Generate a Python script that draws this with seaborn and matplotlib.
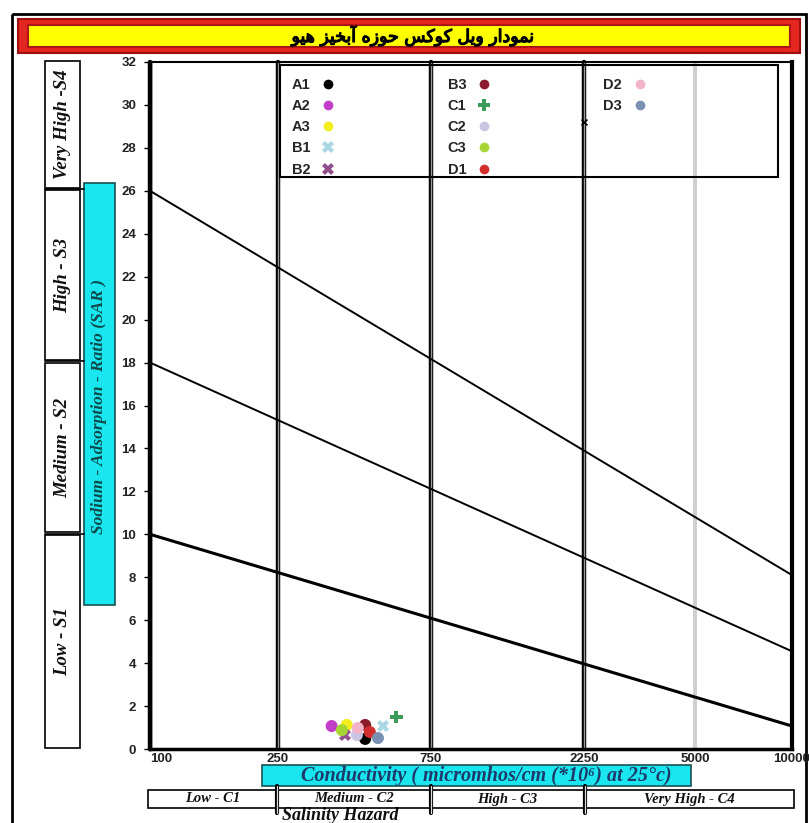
import numpy as np
import pandas as pd
import matplotlib
matplotlib.use('Agg')
import matplotlib.pyplot as plt
import matplotlib.patheffects as pe
import seaborn as sns
from matplotlib.patches import Rectangle
from matplotlib.lines import Line2D
from matplotlib.ticker import NullLocator

W, H = 809, 823

# ---- data -------------------------------------------------------------
samples = ['A1', 'A2', 'A3', 'B1', 'B2', 'B3', 'C1', 'C2', 'C3', 'D1', 'D2', 'D3']
ec_values = [468, 368, 410, 532, 405, 468, 586, 441, 396, 484, 444, 513]
sar_values = [0.47, 1.07, 1.12, 1.07, 0.65, 1.12, 1.50, 0.65, 0.88, 0.79, 0.98, 0.51]
sample_colors = ['#000000', '#c23ec9', '#f2ee1e', '#a9d7e6', '#93508f', '#8c1c2c',
                 '#3c9b58', '#c9c6e4', '#a6d634', '#d42f2f', '#f3b4c9', '#7a91b3']
sample_markers = ['o', 'o', 'o', 'X', 'X', 'o', 'P', 'o', 'o', 'o', 'o', 'o']

# stray marker sitting on the 2250 line
stray_ec = [2250]
stray_sar = [29.2]

# class boundary lines (SAR at EC=100 and EC=10000)
line_ec = [100, 10000]
line_s1_sar = [10, 1.07]
line_s2_sar = [18, 4.55]
line_s3_sar = [26, 8.1]

sar_bounds = [0, 10, 18, 26, 32]
sar_classes = ['Low - S1', 'Medium - S2', 'High - S3', 'Very High -S4']
ec_bounds = [100, 250, 750, 2250, 10000]
ec_classes = ['Low - C1', 'Medium - C2', 'High - C3', 'Very High - C4']
x_ticks = [100, 250, 750, 2250, 5000, 10000]
y_ticks = list(range(0, 33, 2))

title_fa = 'نمودار ویل کوکس حوزه آبخیز هیو'
sar_label = 'Sodium - Adsorption - Ratio (SAR )'
ec_label = 'Conductivity ( micromhos/cm (*10\u2076) at 25\u00b0c)'
salinity_label = 'Salinity Hazard'

# ---- minimal arabic shaping (matplotlib has no text shaping) -----------
forms = {
    'ا': (0xFE8D, 0xFE8E, None, None), 'آ': (0xFE81, 0xFE82, None, None),
    'ب': (0xFE8F, 0xFE90, 0xFE91, 0xFE92), 'خ': (0xFEA5, 0xFEA6, 0xFEA7, 0xFEA8),
    'ح': (0xFEA1, 0xFEA2, 0xFEA3, 0xFEA4), 'د': (0xFEA9, 0xFEAA, None, None),
    'ر': (0xFEAD, 0xFEAE, None, None), 'ز': (0xFEAF, 0xFEB0, None, None),
    'س': (0xFEB1, 0xFEB2, 0xFEB3, 0xFEB4), 'ک': (0xFB8E, 0xFB8F, 0xFB90, 0xFB91),
    'ل': (0xFEDD, 0xFEDE, 0xFEDF, 0xFEE0), 'م': (0xFEE1, 0xFEE2, 0xFEE3, 0xFEE4),
    'ن': (0xFEE5, 0xFEE6, 0xFEE7, 0xFEE8), 'و': (0xFEED, 0xFEEE, None, None),
    'ه': (0xFEE9, 0xFEEA, 0xFEEB, 0xFEEC), 'ی': (0xFBFC, 0xFBFD, 0xFBFE, 0xFBFF),
}


def shape(text):
    out = []
    for i, ch in enumerate(text):
        if ch not in forms:
            out.append(ch)
            continue
        iso, fin, ini, med = forms[ch]
        prev = text[i - 1] if i > 0 else ''
        nxt = text[i + 1] if i + 1 < len(text) else ''
        jp = prev in forms and forms[prev][2] is not None
        jn = ini is not None and nxt in forms
        if jp and jn:
            out.append(chr(med))
        elif jp:
            out.append(chr(fin))
        elif jn:
            out.append(chr(ini))
        else:
            out.append(chr(iso))
    return ''.join(out)[::-1]


sns.set_theme(style='white')
plt.rcParams['font.family'] = ['Liberation Sans', 'DejaVu Sans']

df = pd.DataFrame({'sample': samples, 'EC': ec_values, 'SAR': sar_values})
palette = dict(zip(samples, sample_colors))
marker_map = dict(zip(samples, sample_markers))

fig = plt.figure(figsize=(W / 100, H / 100), dpi=100)
fig.patch.set_facecolor('white')


def px_rect(x0, y0, x1, y1):
    return [x0 / W, 1 - y1 / H, (x1 - x0) / W, (y1 - y0) / H]


serif_bi = dict(family=['Liberation Serif', 'DejaVu Serif'], weight='bold', style='italic')

# ---- decorations in pixel space ---------------------------------------
deco = fig.add_axes([0, 0, 1, 1], zorder=0)
deco.set_xlim(0, W)
deco.set_ylim(H, 0)
deco.axis('off')
deco.add_patch(Rectangle((12, 14), 794, 830, fill=False, ec='black', lw=2))
deco.add_patch(Rectangle((18, 19), 782, 34, fc='#e3261f', ec='#9c1010', lw=1.5))
deco.add_patch(Rectangle((28, 25), 762, 22, fc='#ffff00', ec='#b01414', lw=1.5))
deco.text(413, 36, shape(title_fa), ha='center', va='center', fontsize=12.5,
          family=['DejaVu Sans'], color='black',
          path_effects=[pe.withStroke(linewidth=0.9, foreground='black')])

deco.add_patch(Rectangle((84, 183), 31, 422, fc='#19e6ee', ec='#1a5050', lw=1.2))
deco.text(99.5, 407, sar_label, rotation=90, ha='center', va='center',
          fontsize=12.5, color='#0b4a4a', **serif_bi)

deco.add_patch(Rectangle((262, 765), 429, 21, fc='#19e6ee', ec='#1a5050', lw=1.2))
deco.text(486, 776, ec_label, ha='center', va='center', fontsize=14.5,
          color='#1c3a6a', **serif_bi)
deco.text(340, 816, salinity_label, ha='center', va='center', fontsize=13,
          color='#111111', **serif_bi)

# ---- SAR hazard boxes --------------------------------------------------
hz = fig.add_axes(px_rect(45, 60, 80, 749), zorder=1)
hz.set_ylim(0, 32)
hz.set_xlim(0, 1)
hz.axis('off')
for lo, hi, lab in zip(sar_bounds[:-1], sar_bounds[1:], sar_classes):
    hz.add_patch(Rectangle((0, lo + 0.06), 1, hi - lo - 0.12, fill=False,
                           ec='black', lw=1.2, clip_on=False))
    hz.text(0.5, (lo + hi) / 2, lab, rotation=90, ha='center', va='center',
            fontsize=13.5, color='#111111', **serif_bi)
for b in sar_bounds[1:-1]:
    hz.plot([0, 1.1], [b, b], color='black', lw=1.2, clip_on=False)

# ---- salinity hazard boxes ---------------------------------------------
sl = fig.add_axes(px_rect(148, 790, 794, 808), zorder=1)
sl.set_xscale('log')
sl.set_xlim(100, 10000)
sl.set_ylim(0, 1)
sl.axis('off')
for lo, hi, lab in zip(ec_bounds[:-1], ec_bounds[1:], ec_classes):
    sl.add_patch(Rectangle((lo, 0), hi - lo, 1, fill=False, ec='black', lw=1.2, clip_on=False))
    sl.text(np.sqrt(lo * hi), 0.5, lab, ha='center', va='center', fontsize=10.5,
            color='#111111', **serif_bi)
for b in ec_bounds[1:-1]:
    sl.plot([b, b], [-0.25, 1.25], color='black', lw=3, clip_on=False)
    sl.plot([b, b], [-0.25, 1.25], color='#dddddd', lw=0.9, clip_on=False)

# ---- main diagram ------------------------------------------------------
ax = fig.add_axes(px_rect(150, 62, 792, 749), zorder=2)
ax.set_facecolor('white')
ax.set_xscale('log')
ax.set_xlim(100, 10000)
ax.set_ylim(0, 32)

ax.axvline(5000, color='#cfcfcf', lw=2.8, zorder=1)
for v in ec_bounds[:-1]:
    ax.axvline(v, color='black', lw=3.2, zorder=2, clip_on=False)
    ax.axvline(v, color='#9a9a9a', lw=1.0, zorder=2.1, clip_on=False)

for sar_pair, lw in zip([line_s1_sar, line_s2_sar, line_s3_sar], [2.2, 1.4, 1.4]):
    ax.plot(line_ec, sar_pair, color='black', lw=lw, zorder=3)

sns.scatterplot(data=df, x='EC', y='SAR', hue='sample', style='sample',
                palette=palette, markers=marker_map, s=75, linewidth=0,
                legend=False, ax=ax, zorder=5)
sns.scatterplot(x=stray_ec, y=stray_sar, marker='x', color='black', s=18,
                linewidth=1.2, legend=False, ax=ax, zorder=5)

ax.set_xlabel('')
ax.set_ylabel('')
ax.set_xticks(x_ticks)
ax.set_xticklabels([str(t) for t in x_ticks])
ax.xaxis.set_minor_locator(NullLocator())
ax.set_yticks(y_ticks)
ax.tick_params(axis='y', length=4, width=1, color='black', direction='out', pad=6,
               labelsize=9.5, left=True)
ax.tick_params(axis='x', length=0, pad=3, labelsize=9.5)
for lab in ax.get_xticklabels() + ax.get_yticklabels():
    lab.set_fontweight('bold')
    lab.set_color('#222222')
ax.get_xticklabels()[0].set_horizontalalignment('left')
for side, lw in zip(['left', 'right', 'top', 'bottom'], [2.5, 3.0, 1.5, 2.5]):
    ax.spines[side].set_visible(True)
    ax.spines[side].set_color('black')
    ax.spines[side].set_linewidth(lw)

# legend box (frame drawn separately so it spans like the original)
ax.add_patch(Rectangle((0.2025, 0.8326), 0.7755, 0.163, transform=ax.transAxes,
                       fill=False, ec='black', lw=1.5, zorder=6))
handles = []
labels = []
for name, col, mk in zip(samples, sample_colors, sample_markers):
    handles.append(Line2D([0], [0], marker=mk, color=col, ls='none',
                          markersize=7 if mk == 'o' else 9, mew=0))
    labels.append(name)
for _ in range(3):
    handles.append(Line2D([0], [0], ls='none'))
    labels.append('')
leg = ax.legend(handles, labels, loc='upper left',
                bbox_to_anchor=(0.207, 0.99), ncol=3, markerfirst=False,
                frameon=False,
                prop={'family': 'Liberation Sans', 'weight': 'bold', 'size': 10.5},
                labelspacing=0.5, handlelength=1.2, handletextpad=0.6,
                columnspacing=7.6, borderpad=0.6, borderaxespad=0)
leg.set_zorder(6)

fig.savefig('out.png', dpi=100)
